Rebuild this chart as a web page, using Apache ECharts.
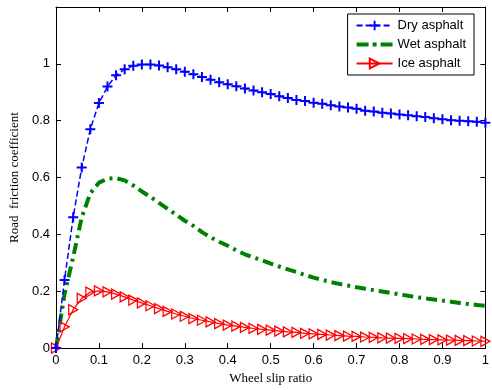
<!DOCTYPE html>
<html>
<head>
<meta charset="utf-8">
<script src="https://cdn.jsdelivr.net/npm/echarts@6/dist/echarts.min.js"></script>
<style>
  html, body { margin: 0; padding: 0; background: #fff; }
  #chart { width: 492px; height: 390px; }
</style>
</head>
<body>
<div id="chart"></div>
<script>
const slipRatio = [
  0, 0.02, 0.04, 0.06, 0.08, 0.1, 0.12, 0.14, 0.16, 0.18,
  0.2, 0.22, 0.24, 0.26, 0.28, 0.3, 0.32, 0.34, 0.36, 0.38,
  0.4, 0.42, 0.44, 0.46, 0.48, 0.5, 0.52, 0.54, 0.56, 0.58,
  0.6, 0.62, 0.64, 0.66, 0.68, 0.7, 0.72, 0.74, 0.76, 0.78,
  0.8, 0.82, 0.84, 0.86, 0.88, 0.9, 0.92, 0.94, 0.96, 0.98, 1
];

const dryAsphalt = [
  0, 0.24, 0.46, 0.635, 0.77, 0.862, 0.92, 0.96, 0.981, 0.993,
  0.998, 0.998, 0.994, 0.988, 0.981, 0.972, 0.963, 0.954, 0.944, 0.935,
  0.928, 0.921, 0.913, 0.906, 0.9, 0.894, 0.886, 0.88, 0.873, 0.869,
  0.863, 0.86, 0.854, 0.85, 0.846, 0.842, 0.835, 0.832, 0.828, 0.825,
  0.822, 0.819, 0.816, 0.813, 0.809, 0.805, 0.802, 0.8, 0.798, 0.796, 0.793
];

const wetAsphalt = [
  0, 0.19, 0.32, 0.46, 0.545, 0.582, 0.596, 0.598, 0.59, 0.572,
  0.551, 0.532, 0.511, 0.49, 0.469, 0.448, 0.43, 0.408, 0.39, 0.374,
  0.36, 0.344, 0.33, 0.319, 0.309, 0.297, 0.287, 0.277, 0.268, 0.257,
  0.248, 0.24, 0.232, 0.226, 0.22, 0.214, 0.209, 0.204, 0.199, 0.194,
  0.189, 0.184, 0.179, 0.175, 0.171, 0.167, 0.163, 0.159, 0.155, 0.152, 0.149
];

const iceAsphalt = [
  0, 0.075, 0.135, 0.175, 0.197, 0.201, 0.198, 0.19, 0.18, 0.169,
  0.159, 0.149, 0.139, 0.129, 0.12, 0.112, 0.104, 0.098, 0.092, 0.086,
  0.081, 0.077, 0.073, 0.069, 0.066, 0.063, 0.06, 0.057, 0.055, 0.052,
  0.05, 0.048, 0.046, 0.044, 0.042, 0.041, 0.039, 0.038, 0.036, 0.035,
  0.034, 0.033, 0.032, 0.031, 0.03, 0.029, 0.028, 0.027, 0.026, 0.025, 0.024
];

const xTicks = [0, 0.1, 0.2, 0.3, 0.4, 0.5, 0.6, 0.7, 0.8, 0.9, 1];
const yTicks = [0, 0.2, 0.4, 0.6, 0.8, 1];

const PLUS = "path://M4,0H6V4H10V6H6V10H4V6H0V4H4Z";
const TRI_RIGHT = "path://M0,0L10,5L0,10Z";
// dash-dot legend swatch, padded to the 36x12 legend item box
const DASH_DOT = "path://M0,0L0.1,0L0,0.1Z M35.9,12L36,12L36,11.9Z M0,4H12V8H0Z M16,4H20V8H16Z M24,4H36V8H24Z";

function pairs(values) {
  return slipRatio.map((x, i) => [x, values[i]]);
}

const chart = echarts.init(document.getElementById("chart"), null, { renderer: "canvas" });

const axisLine = { show: true, onZero: false, lineStyle: { color: "#000", width: 1 } };
const tickStyle = { lineStyle: { color: "#000", width: 1 } };
const labelFont = { color: "#000", fontSize: 13, fontFamily: "Liberation Sans, Arial, sans-serif" };
const nameFont = { color: "#000", fontSize: 13, fontFamily: "Liberation Serif, Times New Roman, serif" };

chart.setOption({
  animation: false,
  backgroundColor: "#fff",
  grid: { left: 51, right: 4, top: 7, bottom: 39 },
  legend: {
    orient: "vertical",
    right: 18,
    top: 14,
    itemWidth: 36,
    itemHeight: 12,
    itemGap: 6,
    padding: [5, 8, 5, 8],
    borderColor: "#000",
    borderWidth: 1,
    borderRadius: 0,
    backgroundColor: "#fff",
    textStyle: labelFont,
    data: [
      "Dry asphalt",
      { name: "Wet asphalt", icon: DASH_DOT, itemStyle: { color: "#008000", borderWidth: 0 } },
      "Ice asphalt"
    ]
  },
  xAxis: [
    {
      type: "value", min: 0, max: 1, interval: 0.1,
      name: "Wheel slip ratio", nameLocation: "middle", nameGap: 22,
      nameTextStyle: nameFont,
      axisLine: axisLine,
      axisTick: Object.assign({ inside: true, length: 5, customValues: xTicks }, tickStyle),
      axisLabel: Object.assign({ margin: 6, customValues: xTicks }, labelFont),
      splitLine: { show: false }
    },
    {
      type: "value", min: 0, max: 1, interval: 0.1, position: "top",
      axisLine: axisLine,
      axisTick: Object.assign({ inside: true, length: 5, customValues: xTicks }, tickStyle),
      axisLabel: { show: false },
      splitLine: { show: false }
    }
  ],
  yAxis: [
    {
      type: "value", min: 0, max: 1.2, interval: 0.2,
      name: "Road  friction coefficient", nameLocation: "middle", nameGap: 28,
      nameTextStyle: nameFont,
      axisLine: axisLine,
      axisTick: Object.assign({ inside: true, length: 5, customValues: yTicks }, tickStyle),
      axisLabel: Object.assign({ margin: 6, customValues: yTicks }, labelFont),
      splitLine: { show: false }
    },
    {
      type: "value", min: 0, max: 1.2, interval: 0.2, position: "right",
      axisLine: axisLine,
      axisTick: Object.assign({ inside: true, length: 5, customValues: yTicks }, tickStyle),
      axisLabel: { show: false },
      splitLine: { show: false }
    }
  ],
  series: [
    {
      name: "Wet asphalt",
      type: "line",
      data: pairs(wetAsphalt),
      symbol: "none",
      smooth: false,
      lineStyle: { color: "#008000", width: 4, type: [11, 5, 3, 5], cap: "butt" },
      itemStyle: { color: "#008000" },
      z: 2
    },
    {
      name: "Ice asphalt",
      type: "line",
      data: pairs(iceAsphalt),
      symbol: TRI_RIGHT,
      symbolSize: [9, 10],
      showAllSymbol: true,
      lineStyle: { color: "#ff0000", width: 1.2 },
      itemStyle: { color: "rgba(255,255,255,0)", borderColor: "#ff0000", borderWidth: 1.3 },
      z: 3
    },
    {
      name: "Dry asphalt",
      type: "line",
      data: pairs(dryAsphalt),
      symbol: PLUS,
      symbolSize: 10,
      showAllSymbol: true,
      lineStyle: { color: "#0000ff", width: 1.5, type: [6, 3] },
      itemStyle: { color: "#0000ff" },
      z: 4
    }
  ]
});
</script>
</body>
</html>
